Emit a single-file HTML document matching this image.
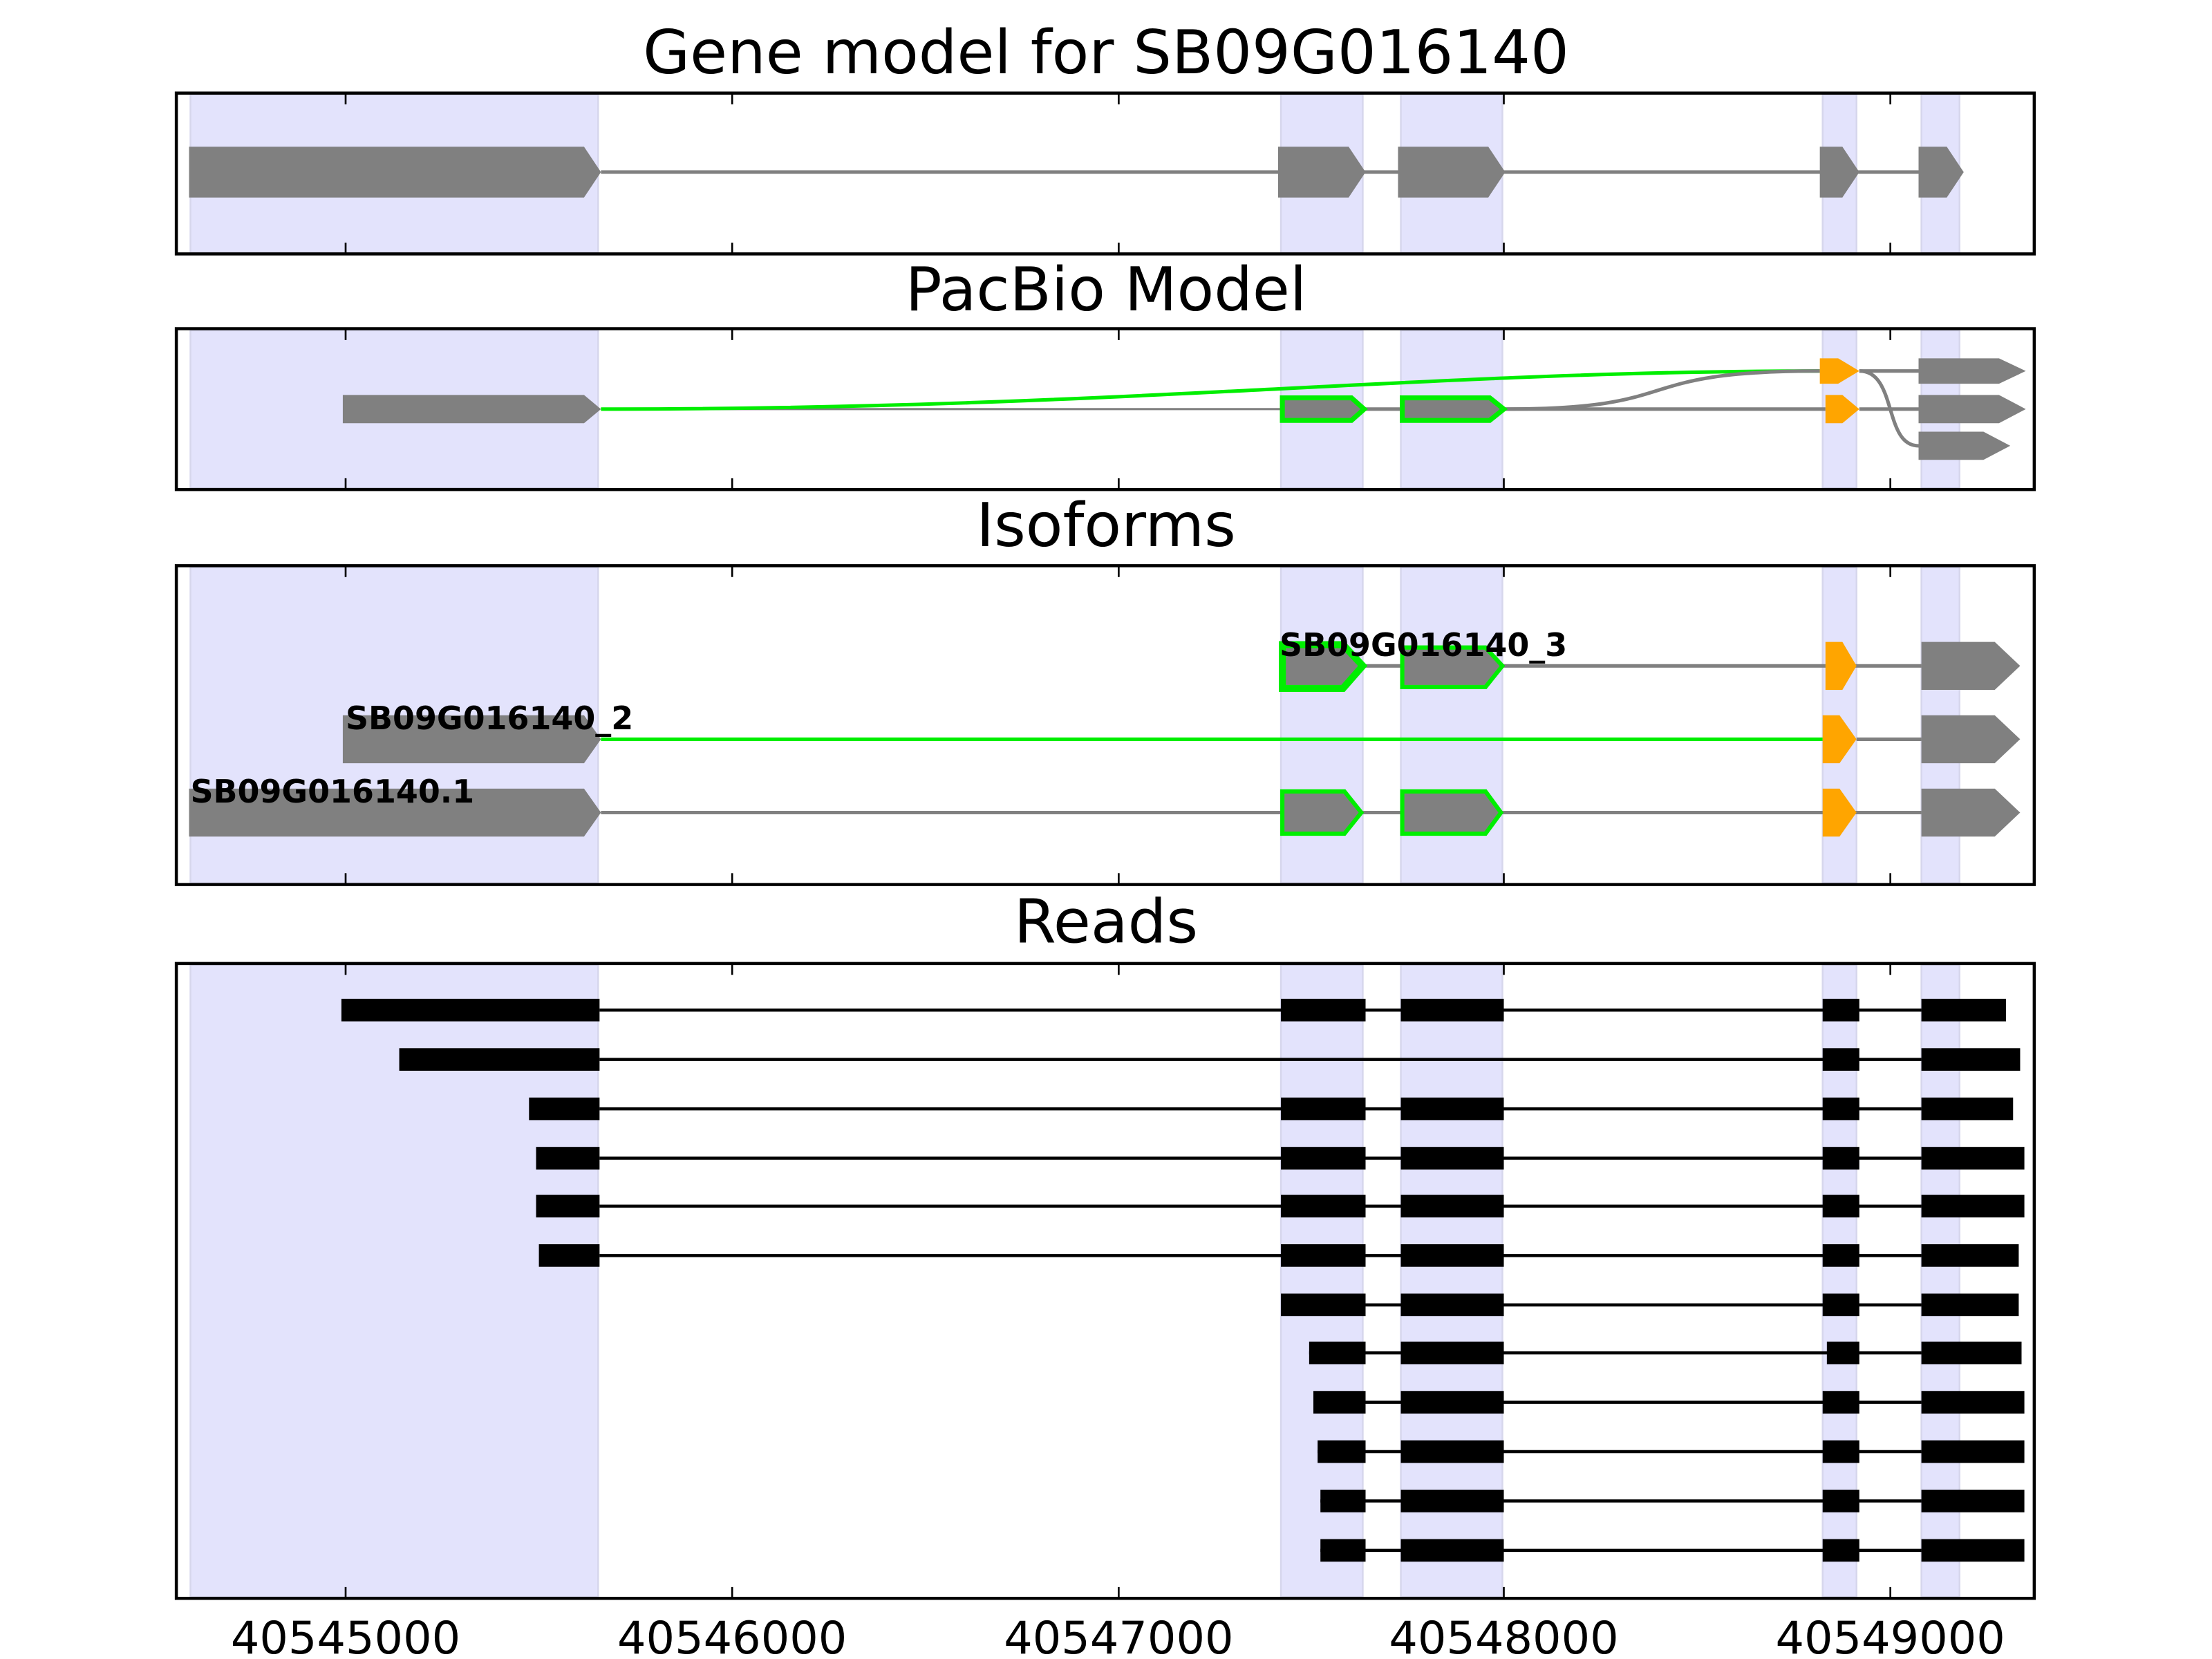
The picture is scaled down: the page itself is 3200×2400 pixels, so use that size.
<!DOCTYPE html>
<html><head><meta charset="utf-8"><style>html,body{margin:0;padding:0;background:#fff}svg{display:block}</style></head>
<body>
<svg width="3200" height="2400" viewBox="0 0 1568 1176" preserveAspectRatio="none" xmlns="http://www.w3.org/2000/svg" font-family="'DejaVu Sans','Liberation Sans',sans-serif">
<rect width="1568" height="1176" fill="#fff"/>
<g fill="#e3e3fc" stroke="#d6d6ec" stroke-width="1.2">
<rect x="135" y="67" width="289" height="112"/><rect x="908" y="67" width="58" height="112"/><rect x="993" y="67" width="72" height="112"/><rect x="1292" y="67" width="24" height="112"/><rect x="1362" y="67" width="27" height="112"/>
<rect x="135" y="234" width="289" height="112"/><rect x="908" y="234" width="58" height="112"/><rect x="993" y="234" width="72" height="112"/><rect x="1292" y="234" width="24" height="112"/><rect x="1362" y="234" width="27" height="112"/>
<rect x="135" y="402" width="289" height="224"/><rect x="908" y="402" width="58" height="224"/><rect x="993" y="402" width="72" height="224"/><rect x="1292" y="402" width="24" height="224"/><rect x="1362" y="402" width="27" height="224"/>
<rect x="135" y="684" width="289" height="448"/><rect x="908" y="684" width="58" height="448"/><rect x="993" y="684" width="72" height="448"/><rect x="1292" y="684" width="24" height="448"/><rect x="1362" y="684" width="27" height="448"/>
</g>
<g font-size="43" text-anchor="middle" fill="#000">
<text x="784" y="52">Gene model for SB09G016140</text>
<text x="784" y="220">PacBio Model</text>
<text x="784" y="387">Isoforms</text>
<text x="784" y="668">Reads</text>
</g>
<line x1="426" y1="122" x2="1360" y2="122" stroke="#808080" stroke-width="2.5"/>
<g fill="#808080">
<polygon points="134,104 414,104 426,122 414,140 134,140"/>
<polygon points="906,104 956,104 968,122 956,140 906,140"/>
<polygon points="991,104 1055,104 1067,122 1055,140 991,140"/>
<polygon points="1290,104 1306,104 1318,122 1306,140 1290,140"/>
<polygon points="1360,104 1380,104 1392,122 1380,140 1360,140"/>
</g>
<g fill="none" stroke-width="2.5">
<line x1="426" y1="290" x2="908" y2="290" stroke="#808080" stroke-width="1.5"/>
<path d="M426,290 C800,290 1000,263 1290,263" stroke="#00ee00"/>
<line x1="1067" y1="290" x2="1294" y2="290" stroke="#808080"/>
<line x1="968" y1="290" x2="993" y2="290" stroke="#808080"/>
<path d="M1067,290 C1200,290 1150,263 1290,263" stroke="#808080"/>
<line x1="1318" y1="263" x2="1360" y2="263" stroke="#808080"/>
<line x1="1318" y1="290" x2="1360" y2="290" stroke="#808080"/>
<path d="M1318,263 C1345,263 1335,316 1360,316" stroke="#808080"/>
</g>
<polygon points="243,280 414,280 426,290 414,300 243,300" fill="#808080"/>
<polygon points="909,282 958,282 967,290 958,298 909,298" fill="#808080" stroke="#00ee00" stroke-width="3.5"/>
<polygon points="994,282 1056,282 1066,290 1056,298 994,298" fill="#808080" stroke="#00ee00" stroke-width="3.5"/>
<polygon points="1290,254 1303,254 1318,263 1303,272 1290,272" fill="#ffa500"/>
<polygon points="1294,280 1306,280 1318,290 1306,300 1294,300" fill="#ffa500"/>
<polygon points="1360,254 1417,254 1436,263 1417,272 1360,272" fill="#808080"/>
<polygon points="1360,280 1417,280 1436,290 1417,300 1360,300" fill="#808080"/>
<polygon points="1360,306 1406,306 1425,316 1406,326 1360,326" fill="#808080"/>
<g stroke-width="2.5">
<line x1="966" y1="472" x2="993" y2="472" stroke="#808080"/>
<line x1="1065" y1="472" x2="1362" y2="472" stroke="#808080"/>
<line x1="426" y1="524" x2="1292" y2="524" stroke="#00ee00"/>
<line x1="1316" y1="524" x2="1362" y2="524" stroke="#808080"/>
<line x1="426" y1="576" x2="1362" y2="576" stroke="#808080"/>
</g>
<polygon points="909,457 952,457 966,472 952,488 909,488" fill="#808080" stroke="#00ee00" stroke-width="5"/>
<polygon points="994,459 1053,459 1065,472 1053,487 994,487" fill="#808080" stroke="#00ee00" stroke-width="3"/>
<polygon points="1294,455 1306,455 1316,472 1306,489 1294,489" fill="#ffa500"/>
<polygon points="1362,455 1414,455 1432,472 1414,489 1362,489" fill="#808080"/>
<polygon points="243,507 414,507 426,524 414,541 243,541" fill="#808080"/>
<polygon points="1292,507 1304,507 1316,524 1304,541 1292,541" fill="#ffa500"/>
<polygon points="1362,507 1414,507 1432,524 1414,541 1362,541" fill="#808080"/>
<polygon points="134,559 414,559 426,576 414,593 134,593" fill="#808080"/>
<polygon points="909,561 953,561 965,576 953,591 909,591" fill="#808080" stroke="#00ee00" stroke-width="3"/>
<polygon points="994,561 1053,561 1064,576 1053,591 994,591" fill="#808080" stroke="#00ee00" stroke-width="3"/>
<polygon points="1292,559 1304,559 1316,576 1304,593 1292,593" fill="#ffa500"/>
<polygon points="1362,559 1414,559 1432,576 1414,593 1362,593" fill="#808080"/>
<g font-size="22.5" font-weight="bold" fill="#000">
<text x="907" y="465">SB09G016140_3</text>
<text x="245" y="517">SB09G016140_2</text>
<text x="135" y="569">SB09G016140.1</text>
</g>
<g stroke="#000" stroke-width="2.2">
<line x1="425" y1="716" x2="1362" y2="716"/><line x1="425" y1="751" x2="1362" y2="751"/>
<line x1="425" y1="786" x2="1362" y2="786"/><line x1="425" y1="821" x2="1362" y2="821"/>
<line x1="425" y1="855" x2="1362" y2="855"/><line x1="425" y1="890" x2="1362" y2="890"/>
<line x1="968" y1="925" x2="1362" y2="925"/><line x1="928" y1="959" x2="1362" y2="959"/>
<line x1="931" y1="994" x2="1362" y2="994"/><line x1="934" y1="1029" x2="1362" y2="1029"/>
<line x1="936" y1="1064" x2="1362" y2="1064"/><line x1="936" y1="1099" x2="1362" y2="1099"/>
</g>
<g fill="#000">
<rect x="242" y="708" width="183" height="16"/><rect x="908" y="708" width="60" height="16"/><rect x="993" y="708" width="73" height="16"/><rect x="1292" y="708" width="26" height="16"/><rect x="1362" y="708" width="60" height="16"/>
<rect x="283" y="743" width="142" height="16"/><rect x="1292" y="743" width="26" height="16"/><rect x="1362" y="743" width="70" height="16"/>
<rect x="375" y="778" width="50" height="16"/><rect x="908" y="778" width="60" height="16"/><rect x="993" y="778" width="73" height="16"/><rect x="1292" y="778" width="26" height="16"/><rect x="1362" y="778" width="65" height="16"/>
<rect x="380" y="813" width="45" height="16"/><rect x="908" y="813" width="60" height="16"/><rect x="993" y="813" width="73" height="16"/><rect x="1292" y="813" width="26" height="16"/><rect x="1362" y="813" width="73" height="16"/>
<rect x="380" y="847" width="45" height="16"/><rect x="908" y="847" width="60" height="16"/><rect x="993" y="847" width="73" height="16"/><rect x="1292" y="847" width="26" height="16"/><rect x="1362" y="847" width="73" height="16"/>
<rect x="382" y="882" width="43" height="16"/><rect x="908" y="882" width="60" height="16"/><rect x="993" y="882" width="73" height="16"/><rect x="1292" y="882" width="26" height="16"/><rect x="1362" y="882" width="69" height="16"/>
<rect x="908" y="917" width="60" height="16"/><rect x="993" y="917" width="73" height="16"/><rect x="1292" y="917" width="26" height="16"/><rect x="1362" y="917" width="69" height="16"/>
<rect x="928" y="951" width="40" height="16"/><rect x="993" y="951" width="73" height="16"/><rect x="1295" y="951" width="23" height="16"/><rect x="1362" y="951" width="71" height="16"/>
<rect x="931" y="986" width="37" height="16"/><rect x="993" y="986" width="73" height="16"/><rect x="1292" y="986" width="26" height="16"/><rect x="1362" y="986" width="73" height="16"/>
<rect x="934" y="1021" width="34" height="16"/><rect x="993" y="1021" width="73" height="16"/><rect x="1292" y="1021" width="26" height="16"/><rect x="1362" y="1021" width="73" height="16"/>
<rect x="936" y="1056" width="32" height="16"/><rect x="993" y="1056" width="73" height="16"/><rect x="1292" y="1056" width="26" height="16"/><rect x="1362" y="1056" width="73" height="16"/>
<rect x="936" y="1091" width="32" height="16"/><rect x="993" y="1091" width="73" height="16"/><rect x="1292" y="1091" width="26" height="16"/><rect x="1362" y="1091" width="73" height="16"/>
</g>
<g fill="none" stroke="#000" stroke-width="2.2">
<rect x="125" y="66" width="1317" height="114"/>
<rect x="125" y="233" width="1317" height="114"/>
<rect x="125" y="401" width="1317" height="226"/>
<rect x="125" y="683" width="1317" height="450"/>
</g>
<g stroke="#000" stroke-width="1.3">
<path d="M245,66v8M519,66v8M793,66v8M1066,66v8M1340,66v8M245,180v-8M519,180v-8M793,180v-8M1066,180v-8M1340,180v-8"/>
<path d="M245,233v8M519,233v8M793,233v8M1066,233v8M1340,233v8M245,347v-8M519,347v-8M793,347v-8M1066,347v-8M1340,347v-8"/>
<path d="M245,401v8M519,401v8M793,401v8M1066,401v8M1340,401v8M245,627v-8M519,627v-8M793,627v-8M1066,627v-8M1340,627v-8"/>
<path d="M245,683v8M519,683v8M793,683v8M1066,683v8M1340,683v8M245,1133v-8M519,1133v-8M793,1133v-8M1066,1133v-8M1340,1133v-8"/>
</g>
<g font-size="32" text-anchor="middle" fill="#000">
<text x="245" y="1172">40545000</text>
<text x="519" y="1172">40546000</text>
<text x="793" y="1172">40547000</text>
<text x="1066" y="1172">40548000</text>
<text x="1340" y="1172">40549000</text>
</g>
</svg>
</body></html>
